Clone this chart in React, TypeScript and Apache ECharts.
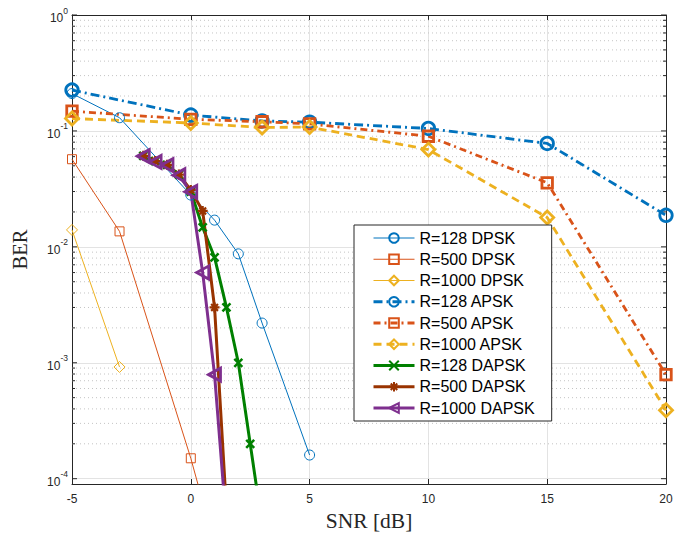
import React, { useEffect, useRef } from "react";
import * as echarts from "echarts";

// ---------- data ----------
const X_MIN = -5;
const X_MAX = 20;
const Y_MIN = 9e-5;
const Y_MAX = 1;

const DPSK128_X = [-5, -3, 0, 1, 2, 3, 5];
const DPSK128_Y = [0.21, 0.13, 0.028, 0.017, 0.0087, 0.0022, 1.6e-4];
const DPSK500_X = [-5, -3, 0, 1];
const DPSK500_Y = [0.057, 0.0136, 1.5e-4, 2.7e-5];
const DPSK1000_X = [-5, -3];
const DPSK1000_Y = [0.014, 9.2e-4];

const APSK_X = [-5, 0, 3, 5, 10, 15, 20];
const APSK128_Y = [0.225, 0.137, 0.122, 0.119, 0.105, 0.078, 0.0187];
const APSK500_Y = [0.148, 0.126, 0.12, 0.115, 0.09, 0.0357, 7.9e-4];
const APSK1000_Y = [0.128, 0.117, 0.107, 0.108, 0.069, 0.0179, 3.9e-4];

const DAPSK128_X = [-2, -1.5, -1, -0.5, 0, 0.5, 1, 1.5, 2, 2.5, 3];
const DAPSK128_Y = [0.061, 0.055, 0.051, 0.042, 0.03, 0.0147, 0.0081, 0.003, 0.001, 2.0e-4, 4e-5];
const DAPSK500_X = [-2, -1.5, -1, -0.5, 0, 0.5, 1, 1.5];
const DAPSK500_Y = [0.061, 0.055, 0.051, 0.042, 0.031, 0.0204, 0.003, 5.5e-5];
const DAPSK1000_X = [-2, -1.5, -1, -0.5, 0, 0.5, 1, 1.5];
const DAPSK1000_Y = [0.0606, 0.054, 0.0507, 0.0415, 0.0298, 0.006, 7.9e-4, 4e-5];

const X_TICKS = [-5, 0, 5, 10, 15, 20];
const DECADES = [-4, -3, -2, -1, 0];

const SERIES_NAMES = [
  "R=128 DPSK",
  "R=500 DPSK",
  "R=1000 DPSK",
  "R=128 APSK",
  "R=500 APSK",
  "R=1000 APSK",
  "R=128 DAPSK",
  "R=500 DAPSK",
  "R=1000 DAPSK",
];

// ---------- styles ----------
const BLUE = "#0072BD";
const ORANGE = "#D95319";
const YELLOW = "#EDB120";
const GREEN = "#008000";
const BROWN = "#993300";
const PURPLE = "#7E2F8E";
const AX = "#262626";

const SYM_X = "path://M0,0L10,10M10,0L0,10";
const SYM_STAR = "path://M5,0L5,10M0,5L10,5M1.6,1.6L8.4,8.4M8.4,1.6L1.6,8.4";
const SYM_TRI_LEFT = "path://M0,5L10,0L10,10Z";

const zip = (xs: number[], ys: number[]) => xs.map((x, i) => [x, ys[i]]);

// minor tick positions (2..9 per decade) for the log axis decoration
const minorVals: number[] = [];
for (let d = -5; d < 0; d++) {
  for (let m = 2; m <= 9; m++) {
    const v = m * Math.pow(10, d);
    if (v > Y_MIN && v < Y_MAX) minorVals.push(v);
  }
}

function lineSeries(
  name: string,
  data: number[][],
  color: string,
  width: number,
  dash: any,
  symbol: string,
  size: any,
  borderWidth: number
) {
  return {
    name,
    type: "line",
    data,
    z: 3,
    symbol,
    symbolSize: size,
    showAllSymbol: true,
    clip: true,
    lineStyle: { color, width, type: dash },
    itemStyle: { color: "transparent", borderColor: color, borderWidth },
    emphasis: { disabled: true },
  };
}

export default function App() {
  const ref = useRef<HTMLDivElement>(null);

  useEffect(() => {
    if (!ref.current) return;
    const chart = echarts.init(ref.current, undefined, { renderer: "svg" });

    const labelFont = "'Liberation Sans', Arial, Helvetica, sans-serif";
    const titleFont = "'Liberation Serif', 'Times New Roman', serif";

    const option: any = {
      animation: false,
      backgroundColor: "#ffffff",
      grid: {
        left: 72,
        right: 16,
        top: 15,
        bottom: 49,
        containLabel: false,
        outerBoundsMode: "none",
      },
      legend: {
        data: SERIES_NAMES,
        orient: "vertical",
        left: 354,
        top: 225,
        itemWidth: 41,
        itemHeight: 12,
        itemGap: 5.25,
        padding: [5, 17, 5, 18],
        backgroundColor: "#ffffff",
        borderColor: AX,
        borderWidth: 1,
        borderRadius: 0,
        selectedMode: false,
        lineStyle: { width: "inherit" },
        textStyle: { fontFamily: labelFont, fontSize: 16, color: "#000000", lineHeight: 16 },
      },
      xAxis: [
        {
          type: "value",
          min: X_MIN,
          max: X_MAX,
          interval: 5,
          position: "bottom",
          name: "SNR [dB]",
          nameLocation: "middle",
          nameGap: 25,
          nameTextStyle: { fontFamily: titleFont, fontSize: 21.5, color: AX },
          axisLine: { show: true, onZero: false, lineStyle: { color: AX, width: 1 } },
          axisTick: { show: true, inside: true, length: 5, lineStyle: { color: AX } },
          axisLabel: {
            margin: 9,
            fontFamily: labelFont,
            fontSize: 12,
            color: AX,
            formatter: (v: number) => (X_TICKS.includes(v) ? String(v) : ""),
          },
          splitLine: { show: true, lineStyle: { color: "#e3e3e3", width: 1 } },
        },
        {
          type: "value",
          min: X_MIN,
          max: X_MAX,
          interval: 5,
          position: "top",
          axisLine: { show: true, onZero: false, lineStyle: { color: AX, width: 1 } },
          axisTick: { show: true, inside: true, length: 5, lineStyle: { color: AX } },
          axisLabel: { show: false },
          splitLine: { show: false },
        },
      ],
      yAxis: [
        {
          type: "log",
          logBase: 10,
          min: Y_MIN,
          max: Y_MAX,
          splitNumber: 4,
          position: "left",
          name: "BER",
          nameLocation: "middle",
          nameGap: 42,
          nameTextStyle: { fontFamily: titleFont, fontSize: 20.5, color: AX },
          axisLine: { show: true, onZero: false, lineStyle: { color: AX, width: 1 } },
          axisTick: { show: false },
          axisLabel: {
            margin: 4,
            fontFamily: labelFont,
            color: AX,
            formatter: (v: number) => {
              const l = Math.log10(v);
              const k = Math.round(l);
              if (Math.abs(l - k) > 1e-6 || !DECADES.includes(k)) return "";
              return `{b|10}{s|${k}}`;
            },
            rich: {
              b: { fontFamily: labelFont, fontSize: 12, color: AX, lineHeight: 18, verticalAlign: "bottom" },
              s: { fontFamily: labelFont, fontSize: 8.5, color: AX, lineHeight: 10, verticalAlign: "top" },
            },
          },
          splitLine: { show: true, lineStyle: { color: "#e3e3e3", width: 1 } },
        },
        {
          type: "log",
          logBase: 10,
          min: Y_MIN,
          max: Y_MAX,
          splitNumber: 4,
          position: "right",
          axisLine: { show: true, onZero: false, lineStyle: { color: AX, width: 1 } },
          axisTick: { show: false },
          axisLabel: { show: false },
          splitLine: { show: false },
        },
      ],
      series: [
        {
          name: "grid-decoration",
          type: "custom",
          z: 1,
          silent: true,
          clip: false,
          xAxisIndex: 0,
          yAxisIndex: 0,
          data: [...minorVals.map((v) => [X_MIN, v, 0]), ...DECADES.map((k) => [X_MIN, Math.pow(10, k), 1])],
          renderItem: (params: any, api: any) => {
            const v = api.value(1);
            const major = api.value(2) === 1;
            const p = api.coord([X_MIN, v]);
            const cs = params.coordSys;
            const y = p[1];
            const len = major ? 5 : 3;
            const children: any[] = [];
            if (!major) {
              children.push({
                type: "line",
                shape: { x1: cs.x, y1: y, x2: cs.x + cs.width, y2: y },
                style: { stroke: "#c4c4c4", lineWidth: 1, lineDash: [1, 3] },
              });
            }
            children.push({
              type: "line",
              shape: { x1: cs.x, y1: y, x2: cs.x + len, y2: y },
              style: { stroke: AX, lineWidth: 1 },
            });
            children.push({
              type: "line",
              shape: { x1: cs.x + cs.width - len, y1: y, x2: cs.x + cs.width, y2: y },
              style: { stroke: AX, lineWidth: 1 },
            });
            return { type: "group", children };
          },
        },
        lineSeries(SERIES_NAMES[0], zip(DPSK128_X, DPSK128_Y), BLUE, 1, "solid", "circle", 10, 1),
        lineSeries(SERIES_NAMES[1], zip(DPSK500_X, DPSK500_Y), ORANGE, 1, "solid", "rect", 9, 1),
        lineSeries(SERIES_NAMES[2], zip(DPSK1000_X, DPSK1000_Y), YELLOW, 1, "solid", "diamond", 11, 1),
        lineSeries(SERIES_NAMES[3], zip(APSK_X, APSK128_Y), BLUE, 2.8, [9, 4, 2, 4], "circle", 12.5, 2.8),
        lineSeries(SERIES_NAMES[4], zip(APSK_X, APSK500_Y), ORANGE, 2.8, [7, 4, 2, 4], "rect", 10.5, 2.8),
        lineSeries(SERIES_NAMES[5], zip(APSK_X, APSK1000_Y), YELLOW, 2.8, [8, 5], "diamond", 13, 2.8),
        lineSeries(SERIES_NAMES[6], zip(DAPSK128_X, DAPSK128_Y), GREEN, 3, "solid", SYM_X, 8, 2.5),
        lineSeries(SERIES_NAMES[7], zip(DAPSK500_X, DAPSK500_Y), BROWN, 3, "solid", SYM_STAR, 10, 2.2),
        lineSeries(SERIES_NAMES[8], zip(DAPSK1000_X, DAPSK1000_Y), PURPLE, 3, "solid", SYM_TRI_LEFT, [12, 13], 2.8),
      ],
    };

    chart.setOption(option);
    return () => chart.dispose();
  }, []);

  return (
    <div
      ref={ref}
      style={{ position: "absolute", left: 0, top: 0, width: 682, height: 533, background: "#fff" }}
    />
  );
}
